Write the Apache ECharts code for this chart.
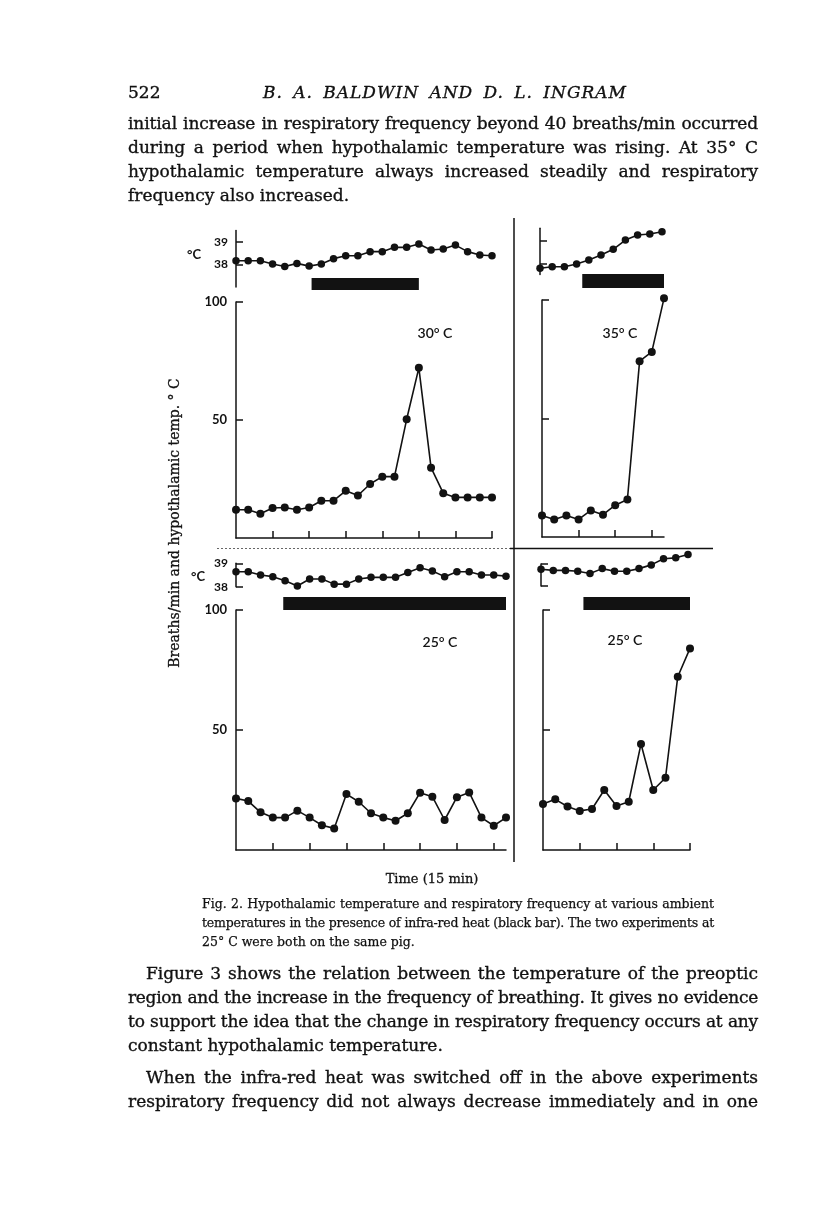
<!DOCTYPE html>
<html>
<head>
<meta charset="utf-8">
<script src="https://cdn.jsdelivr.net/npm/echarts@6/dist/echarts.min.js"></script>
<style>
  body { margin: 0; background: #fff; }
  #page { position: relative; width: 816px; height: 1221px; overflow: hidden; background: #fff; }
  #chart { position: absolute; left: 0; top: 0; width: 816px; height: 1221px; }
  .ln {
    position: absolute;
    font-family: 'DejaVu Serif', serif;
    font-size: 17px;
    line-height: 20px;
    color: #111;
    -webkit-text-stroke: 0.35px #111;
    text-align: justify;
    text-align-last: justify;
  }
  .ln.last { text-align-last: left; }
  .cap { font-size: 12.5px; line-height: 16px; -webkit-text-stroke: 0.25px #111; }
  .head { font-size: 17px; }
  .head.it { font-style: italic; letter-spacing: 1px; }
</style>
</head>
<body>
<div id="page">
  <div id="chart"></div>

  <div class="ln head last" style="left:128px;top:82px;width:60px">522</div>
  <div class="ln head it" style="left:263px;top:82px;width:364px">B. A. BALDWIN AND D. L. INGRAM</div>

  <div class="ln" style="left:128px;top:113px;width:630px">initial increase in respiratory frequency beyond 40 breaths/min occurred</div>
  <div class="ln" style="left:128px;top:137px;width:630px">during a period when hypothalamic temperature was rising. At 35° C</div>
  <div class="ln" style="left:128px;top:161px;width:630px">hypothalamic temperature always increased steadily and respiratory</div>
  <div class="ln last" style="left:128px;top:185px;width:630px">frequency also increased.</div>

  <div class="ln cap" style="left:202px;top:896px;width:512px">Fig. 2. Hypothalamic temperature and respiratory frequency at various ambient</div>
  <div class="ln cap" style="left:202px;top:915px;width:512px">temperatures in the presence of infra-red heat (black bar). The two experiments at</div>
  <div class="ln cap last" style="left:202px;top:934px;width:512px">25° C were both on the same pig.</div>

  <div class="ln" style="left:146px;top:963px;width:612px">Figure 3 shows the relation between the temperature of the preoptic</div>
  <div class="ln" style="left:128px;top:987px;width:630px">region and the increase in the frequency of breathing. It gives no evidence</div>
  <div class="ln" style="left:128px;top:1011px;width:630px">to support the idea that the change in respiratory frequency occurs at any</div>
  <div class="ln last" style="left:128px;top:1035px;width:630px">constant hypothalamic temperature.</div>
  <div class="ln" style="left:146px;top:1067px;width:612px">When the infra-red heat was switched off in the above experiments</div>
  <div class="ln" style="left:128px;top:1091px;width:630px">respiratory frequency did not always decrease immediately and in one</div>
</div>

<script>
  // 5-min steps along each time axis (tick every 15 min)
  const tlTemp = [38.16, 38.16, 38.16, 38.01, 37.9, 38.04, 37.92, 38.01, 38.25, 38.38, 38.38,
                  38.56, 38.56, 38.75, 38.75, 38.9, 38.63, 38.68, 38.85, 38.56, 38.41, 38.38];
  const tlBreaths = [12.0, 12.0, 10.3, 12.7, 12.9, 12.0, 12.9, 15.8, 15.8, 20.0, 18.0,
                     22.9, 26.0, 26.0, 50.3, 72.1, 29.8, 19.0, 17.2, 17.2, 17.2, 17.2];
  const tlHeat = [6.2, 15];

  const trTemp = [37.78, 37.85, 37.85, 37.97, 38.15, 38.37, 38.62, 39.03, 39.25, 39.3, 39.4];
  const trBreaths = [9.1, 7.4, 9.1, 7.4, 11.2, 9.4, 13.4, 15.8, 74.2, 78.1, 100.7];
  const trHeat = [3.3, 10];

  const blTemp = [38.64, 38.64, 38.5, 38.43, 38.25, 38.03, 38.33, 38.33, 38.11, 38.11, 38.33, 38.4,
                  38.4, 38.4, 38.61, 38.81, 38.67, 38.43, 38.64, 38.64, 38.5, 38.5, 38.45];
  const blBreaths = [21.5, 20.4, 15.7, 13.5, 13.5, 16.4, 13.5, 10.3, 9.0, 23.3, 20.1, 15.3,
                     13.5, 12.2, 15.3, 23.9, 22.2, 12.5, 22.0, 24.0, 13.5, 10.1, 13.5];
  const blHeat = [3.85, 22];

  const brTemp = [38.76, 38.71, 38.71, 38.67, 38.57, 38.79, 38.67, 38.67, 38.79, 38.96, 39.24, 39.28, 39.43];
  const brBreaths = [19.2, 21.1, 18.1, 16.3, 17.1, 25.0, 18.3, 20.1, 44.2, 25.0, 30.1, 72.2, 84.0];
  const brHeat = [3.3, 12];

  const breathTicks = [50, 100];
  const tempTicks = [38, 39];

  const INK = '#121212';
  const SANS = 'Lato';

  const panels = [
    { note: '30° C', temp: tlTemp, breaths: tlBreaths, heat: tlHeat, steps: 21, xticks: [3, 6, 9, 12, 15, 18, 21], labels: true,
      b: { left: 236, top: 302, width: 256, height: 236 },
      t: { left: 236, top: 230.4, width: 256, height: 56.5 }, tRange: [37, 39.5],
      h: { left: 236, top: 278, width: 256, height: 12 }, notePos: [435, 333] },
    { note: '35° C', temp: trTemp, breaths: trBreaths, heat: trHeat, steps: 10, xticks: [3, 6, 9], labels: false,
      b: { left: 542, top: 300, width: 122, height: 237 },
      t: { left: 540, top: 228.3, width: 122, height: 46.3 }, tRange: [37.5, 39.55],
      h: { left: 542, top: 274, width: 122, height: 14 }, notePos: [620, 333] },
    { note: '25° C', temp: blTemp, breaths: blBreaths, heat: blHeat, steps: 22, xticks: [3, 6, 9, 12, 15, 18, 21], labels: true,
      b: { left: 236, top: 610, width: 270, height: 240 },
      t: { left: 236, top: 563.3, width: 270, height: 23.4 }, tRange: [38, 39],
      h: { left: 236, top: 597, width: 270, height: 13 }, notePos: [440, 642] },
    { note: '25° C', temp: brTemp, breaths: brBreaths, heat: brHeat, steps: 12, xticks: [3, 6, 9, 12], labels: false,
      b: { left: 543, top: 610, width: 147, height: 240 },
      t: { left: 541, top: 564, width: 147, height: 22 }, tRange: [38, 39],
      h: { left: 543, top: 597, width: 147, height: 13 }, notePos: [625, 640] }
  ];

  const grid = [], xAxis = [], yAxis = [], series = [], graphic = [];
  const axisLine = { show: true, lineStyle: { color: INK, width: 1.5 } };
  const tickStyle = { color: INK, width: 1.5 };

  panels.forEach((p) => {
    const gi = grid.length;
    grid.push(p.b, p.t, p.h);

    // breaths
    xAxis.push({
      type: 'value', gridIndex: gi, min: 0, max: p.steps,
      axisLine: axisLine,
      axisTick: { show: true, inside: true, length: 7, customValues: p.xticks, lineStyle: tickStyle },
      axisLabel: { show: false }, splitLine: { show: false }
    });
    yAxis.push({
      type: 'value', gridIndex: gi, min: 0, max: 100,
      axisLine: axisLine,
      axisTick: { show: true, inside: true, length: 7, customValues: breathTicks, lineStyle: tickStyle },
      axisLabel: { show: p.labels, customValues: breathTicks, color: INK, fontFamily: SANS, fontWeight: 'bold', fontSize: 13, margin: 9 },
      splitLine: { show: false }
    });

    // hypothalamic temperature
    xAxis.push({ type: 'value', gridIndex: gi + 1, min: 0, max: p.steps, show: false });
    yAxis.push({
      type: 'value', gridIndex: gi + 1, min: p.tRange[0], max: p.tRange[1],
      axisLine: axisLine,
      axisTick: { show: true, inside: true, length: 7, customValues: tempTicks, lineStyle: tickStyle },
      axisLabel: { show: p.labels, customValues: tempTicks, color: INK, fontFamily: SANS, fontWeight: 'bold', fontSize: 12, margin: 8 },
      splitLine: { show: false }
    });

    // heat bar
    xAxis.push({ type: 'value', gridIndex: gi + 2, min: 0, max: p.steps, show: false });
    yAxis.push({ type: 'value', gridIndex: gi + 2, min: 0, max: 1, show: false });

    const lineSeries = (vals, idx, size) => ({
      type: 'line', xAxisIndex: idx, yAxisIndex: idx,
      data: vals.map((v, i) => [i, v]),
      symbol: 'circle', symbolSize: size, showSymbol: true,
      itemStyle: { color: INK },
      lineStyle: { color: INK, width: 1.6 },
      clip: false, animation: false
    });
    series.push(lineSeries(p.breaths, gi, 8));
    series.push(lineSeries(p.temp, gi + 1, 7.5));
    series.push({
      type: 'custom', xAxisIndex: gi + 2, yAxisIndex: gi + 2,
      data: [p.heat],
      clip: false, animation: false,
      renderItem: (params, api) => {
        const a = api.coord([api.value(0), 1]);
        const b = api.coord([api.value(1), 0]);
        return { type: 'rect', shape: { x: a[0], y: a[1], width: b[0] - a[0], height: b[1] - a[1] }, style: { fill: INK } };
      }
    });

    graphic.push({
      type: 'text', x: p.notePos[0], y: p.notePos[1],
      style: { text: p.note, font: '600 14px ' + SANS, fill: INK, align: 'center', verticalAlign: 'middle' }
    });
  });

  // °C marks next to the temperature scales
  graphic.push(
    { type: 'text', x: 194, y: 255, style: { text: '°C', font: 'bold 13px ' + SANS, fill: INK, align: 'center', verticalAlign: 'middle' } },
    { type: 'text', x: 198, y: 577, style: { text: '°C', font: 'bold 13px ' + SANS, fill: INK, align: 'center', verticalAlign: 'middle' } },
    { type: 'text', x: 175, y: 523, rotation: Math.PI / 2,
      style: { text: 'Breaths/min and hypothalamic temp. ° C', font: '14px "DejaVu Serif"', fill: INK,
               stroke: INK, lineWidth: 0.3, align: 'center', verticalAlign: 'middle' } },
    { type: 'text', x: 432, y: 880,
      style: { text: 'Time (15 min)', font: '13px "DejaVu Serif"', fill: INK, stroke: INK, lineWidth: 0.3,
               align: 'center', verticalAlign: 'middle' } },
    // panel dividers
    { type: 'line', shape: { x1: 514, y1: 218, x2: 514, y2: 862 }, style: { stroke: INK, lineWidth: 1.5 } },
    { type: 'line', shape: { x1: 217, y1: 548.5, x2: 510, y2: 548.5 }, style: { stroke: '#666', lineWidth: 1, lineDash: [2, 2] } },
    { type: 'line', shape: { x1: 510, y1: 548.5, x2: 713, y2: 548.5 }, style: { stroke: INK, lineWidth: 1.5 } }
  );

  const chart = echarts.init(document.getElementById('chart'));
  chart.setOption({
    animation: false,
    backgroundColor: 'transparent',
    grid: grid,
    xAxis: xAxis,
    yAxis: yAxis,
    series: series,
    graphic: graphic
  });

  // keep each printed line on a single line
  document.querySelectorAll('.ln').forEach(el => {
    const lh = parseFloat(getComputedStyle(el).lineHeight);
    let ls = parseFloat(getComputedStyle(el).letterSpacing) || 0;
    let guard = 0;
    while (el.scrollHeight > lh * 1.5 && guard < 40) {
      ls -= 0.1;
      el.style.letterSpacing = ls + 'px';
      guard++;
    }
  });
</script>
</body>
</html>
